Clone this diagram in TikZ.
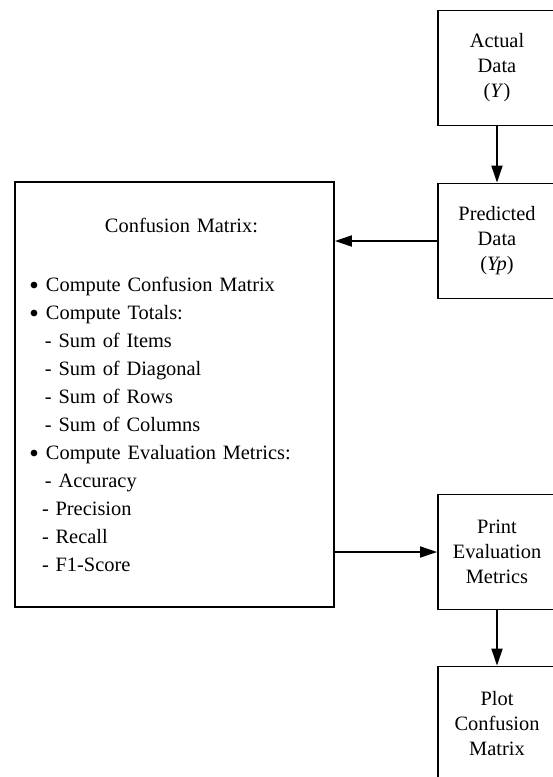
\documentclass[tikz,border=0pt]{standalone}
\usepackage{fontspec}
\setmainfont{Liberation Serif}
\usetikzlibrary{arrows.meta}

\begin{document}
\begin{tikzpicture}[x=0.5pt,y=-0.5pt,
		box/.style={draw,line width=0.9pt,minimum width=59pt,minimum height=57.5pt,align=center,font=\fontsize{10.2}{12.5}\selectfont},
		bigbox/.style={draw,line width=0.9pt,minimum width=159.5pt,minimum height=212.5pt,text width=144.5pt,inner xsep=7.5pt,align=left,font=\fontsize{10.2}{14}\selectfont},
		arr/.style={-{Triangle[length=8.5pt,width=5.5pt]},line width=0.9pt}]
		\useasboundingbox (0,0) rectangle (552,777);
		\node[box] (actual) at (497,68) {Actual\\Data\\(\textit{Y})}; %入力
		\node[box] (pred) at (497,241) {Predicted\\Data\\(\textit{Yp})};
		\node[bigbox] (conf) at (174.5,394.5) {\hspace*{37.5pt}Confusion Matrix:\\[15.5pt]
			\makebox[8pt][l]{\raisebox{0.6pt}{\fontsize{8.5}{8}\selectfont$\bullet$}}Compute Confusion Matrix\\
			\makebox[8pt][l]{\raisebox{0.6pt}{\fontsize{8.5}{8}\selectfont$\bullet$}}Compute Totals:\\
			\hspace*{7.5pt}- Sum of Items\\
			\hspace*{7.5pt}- Sum of Diagonal\\
			\hspace*{7.5pt}- Sum of Rows\\
			\hspace*{7.5pt}- Sum of Columns\\
			\makebox[8pt][l]{\raisebox{0.6pt}{\fontsize{8.5}{8}\selectfont$\bullet$}}Compute Evaluation Metrics:\\
			\hspace*{7.5pt}- Accuracy\\
			\hspace*{6pt}- Precision\\
			\hspace*{6pt}- Recall\\
			\hspace*{6pt}- F1-Score};
		\node[box] (print) at (497,552) {Print\\Evaluation\\Metrics}; %出力
		\node[box] (plot) at (497,724) {Plot\\Confusion\\Matrix};
		\draw[arr] (actual)--(pred);
		\draw[arr] (pred.west)--(pred.west -| conf.east);
		\draw[arr] (conf.east |- print.west)--(print.west);
		\draw[arr] (print)--(plot);
	\end{tikzpicture}
\end{document}
